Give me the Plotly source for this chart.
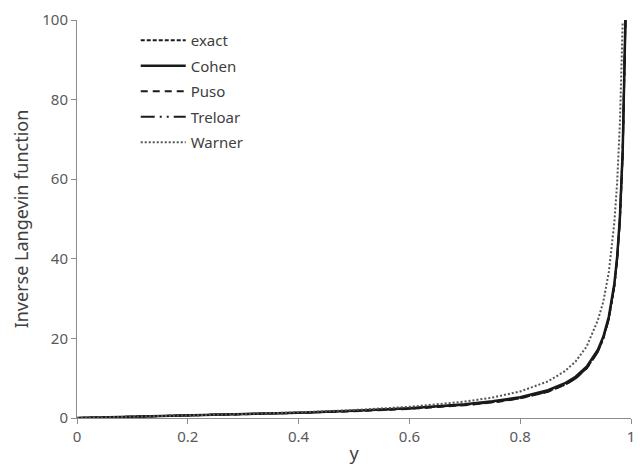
import plotly.graph_objects as go

# y (stretch ratio) sample points
y_pts = [0, 0.1, 0.2, 0.3, 0.4, 0.5, 0.6, 0.7, 0.75, 0.8, 0.85, 0.88, 0.9, 0.92,
         0.94, 0.95, 0.96, 0.97, 0.975, 0.98, 0.985, 0.99]

exact = [0, 0.30, 0.61, 0.94, 1.32, 1.80, 2.40, 3.30, 3.99, 5.0, 6.67, 8.33, 10.0, 12.5,
         16.7, 20.0, 25.0, 33.3, 40.0, 50.0, 66.7, 100.0]
cohen = [0, 0.30, 0.62, 0.96, 1.35, 1.83, 2.48, 3.45, 4.18, 5.24, 6.98, 8.68, 10.37, 12.9,
         17.1, 20.4, 25.5, 33.8, 40.5, 50.5, 67.1, 100.5]
puso = [0, 0.30, 0.605, 0.925, 1.28, 1.71, 2.30, 3.20, 3.89, 4.92, 6.61, 8.29, 9.96, 12.47,
        16.65, 20.0, 24.98, 33.3, 40.0, 50.0, 66.7, 100.0]
treloar = [0, 0.30, 0.61, 0.94, 1.32, 1.80, 2.40, 3.29, 3.97, 4.98, 6.64, 8.30, 9.97, 12.45,
           16.6, 19.9, 24.9, 33.2, 39.9, 49.9, 66.5, 100.0]

y_warner = [0, 0.1, 0.2, 0.3, 0.4, 0.5, 0.6, 0.7, 0.75, 0.8, 0.85, 0.88, 0.9, 0.92,
            0.94, 0.95, 0.96, 0.97, 0.975, 0.98, 0.985]
warner = [0, 0.303, 0.625, 0.99, 1.43, 2.0, 2.81, 4.12, 5.14, 6.67, 9.19, 11.7, 14.2, 17.97,
          24.5, 29.2, 36.7, 49.2, 59.2, 74.2, 99.2]

fig = go.Figure()
fig.add_trace(go.Scatter(x=y_pts, y=exact, name="exact", mode="lines", legendgroup="a",
                         line=dict(color="#1a1a1a", width=2, dash="4px,2px")))
fig.add_trace(go.Scatter(x=y_pts, y=cohen, name="Cohen", mode="lines", legendgroup="b",
                         line=dict(color="#1a1a1a", width=2.5)))
fig.add_trace(go.Scatter(x=y_pts, y=puso, name="Puso", mode="lines", legendgroup="c",
                         line=dict(color="#1a1a1a", width=2, dash="7px,5px")))
fig.add_trace(go.Scatter(x=y_pts, y=treloar, name="Treloar", mode="lines", legendgroup="d",
                         line=dict(color="#1a1a1a", width=2, dash="14px,5px,2px,5px,2px,5px")))
fig.add_trace(go.Scatter(x=y_warner, y=warner, name="Warner", mode="lines", legendgroup="e",
                         line=dict(color="#555555", width=2, dash="2px,2px")))

fig.update_layout(
    width=640, height=472,
    margin=dict(l=77, r=5, t=20, b=54),
    paper_bgcolor="white", plot_bgcolor="white",
    font=dict(family="Noto Sans, Open Sans, sans-serif", color="#404040"),
    showlegend=True,
    legend=dict(x=0.106, y=0.99, xanchor="left", yanchor="top",
                bgcolor="rgba(0,0,0,0)", font=dict(size=15, color="#404040"),
                itemwidth=45, tracegroupgap=3),
)
fig.update_xaxes(range=[0, 1], tickvals=[0, 0.2, 0.4, 0.6, 0.8, 1],
                 ticktext=["0", "0.2", "0.4", "0.6", "0.8", "1"],
                 ticklabeloverflow="allow",
                 showline=True, linecolor="#8c8c8c", linewidth=1,
                 ticks="outside", ticklen=5, tickcolor="#8c8c8c",
                 showgrid=False, zeroline=False,
                 tickfont=dict(size=15, color="#595959"),
                 title=dict(text="y", font=dict(size=18, color="#404040"), standoff=2))
fig.update_yaxes(range=[0, 100], tickvals=[0, 20, 40, 60, 80, 100],
                 showline=True, linecolor="#8c8c8c", linewidth=1,
                 ticks="outside", ticklen=5, tickcolor="#8c8c8c",
                 showgrid=False, zeroline=False,
                 tickfont=dict(size=15, color="#595959"),
                 title=dict(text="Inverse Langevin function", font=dict(size=18, color="#404040"),
                            standoff=8))

fig.write_html("out.html")
